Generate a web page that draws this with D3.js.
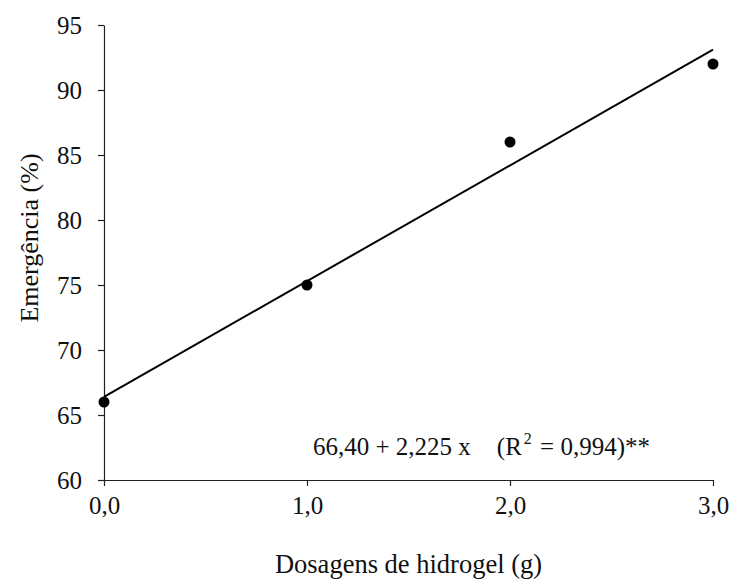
<!DOCTYPE html>
<meta charset="utf-8">
<html>
    <head>
        <style>
            html, body {
                margin: 0;
                padding: 0;
                background: #fff;
            }

            .axis path, .axis line {
                stroke: #222;
                stroke-width: 1.2px;
            }

            .fit {
                fill: none;
                stroke: #000;
                stroke-width: 2px;
            }

            .dot {
                fill: #000;
            }
        </style>
    </head>
    <body>
        <svg width="732" height="580"></svg>

        <script src="https://cdn.jsdelivr.net/npm/d3@7"></script>
        <script>
            // data
            var doses = [0, 1, 2, 3],
                emergencia = [66, 75, 86, 92];

            var xTicks = [0, 1, 2, 3],
                yTicks = [60, 65, 70, 75, 80, 85, 90, 95];

            // fitted line y = a + b x
            var intercept = 66.4,
                slope = 8.9;

            var eqText = '66,40 + 2,225 x',
                xTitle = 'Dosagens de hidrogel (g)',
                yTitle = 'Emergência (%)';

            var font = '"Liberation Serif"';

            var svg = d3.select('svg'),
                margin = {top: 25, right: 19, bottom: 100, left: 104},
                width = 732 - margin.left - margin.right,
                height = 580 - margin.top - margin.bottom;

            var g = svg.append('g')
                .attr('transform', 'translate(' + margin.left + ',' + margin.top + ')');

            var x = d3.scaleLinear().domain([0, 3]).range([0, width]),
                y = d3.scaleLinear().domain([60, 95]).range([height, 0]);

            var comma = function (d) { return d3.format('.1f')(d).replace('.', ','); };

            g.append('g')
                .attr('class', 'axis')
                .attr('transform', 'translate(0,' + height + ')')
                .call(d3.axisBottom(x).tickValues(xTicks).tickFormat(comma).tickSize(6).tickSizeOuter(0).tickPadding(10));

            g.append('g')
                .attr('class', 'axis')
                .call(d3.axisLeft(y).tickValues(yTicks).tickFormat(d3.format('d')).tickSize(6).tickSizeOuter(0).tickPadding(16));

            svg.selectAll('.axis text')
                .style('font-family', font)
                .style('font-size', '25px')
                .attr('fill', '#111');

            // regression line
            g.append('line')
                .attr('class', 'fit')
                .attr('x1', x(0))
                .attr('y1', y(intercept))
                .attr('x2', x(3))
                .attr('y2', y(intercept + slope * 3));

            g.selectAll('.dot')
                .data(doses)
                .enter()
                    .append('circle')
                    .attr('class', 'dot')
                    .attr('cx', function (d) { return x(d); })
                    .attr('cy', function (d, i) { return y(emergencia[i]); })
                    .attr('r', 5.5);

            // equation
            var eq = g.append('text')
                .attr('x', 209)
                .attr('y', 430)
                .style('font-family', font)
                .style('font-size', '25px')
                .attr('fill', '#111');
            eq.append('tspan').text(eqText);
            eq.append('tspan').attr('dx', 26).text('(R');
            eq.append('tspan').attr('dx', 2).attr('dy', -11).style('font-size', '16px').text('2');
            eq.append('tspan').attr('dx', 2).attr('dy', 11).text(' = 0,994)**');

            // axis titles
            svg.append('text')
                .attr('x', margin.left + width / 2)
                .attr('y', 573)
                .attr('text-anchor', 'middle')
                .style('font-family', font)
                .style('font-size', '26.5px')
                .attr('fill', '#111')
                .text(xTitle);

            svg.append('text')
                .attr('transform', 'translate(38,238) rotate(-90)')
                .attr('text-anchor', 'middle')
                .style('font-family', font)
                .style('font-size', '26px')
                .attr('fill', '#111')
                .text(yTitle);
        </script>
    </body>
</html>
